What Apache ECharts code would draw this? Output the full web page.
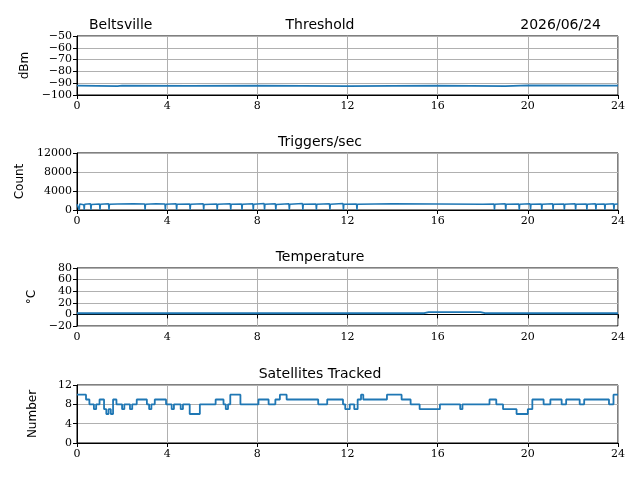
<!DOCTYPE html>
<html><head><meta charset="utf-8">
<script src="https://cdn.jsdelivr.net/npm/echarts@6/dist/echarts.min.js"></script>
<style>html,body{margin:0;padding:0;background:#fff}#c{width:640px;height:480px}</style>
</head><body><div id="c"></div>
<script>
/* ====== data (hour, value) ====== */
const threshold = [[0,-92],[1.8,-92.5],[2,-92],[5,-92.3],[8,-92],[12,-92.4],[16,-92],[19,-92.5],[20,-91.8],[24,-92]];

const triggers = [
  [0,1200],[0.1,0],[0.12,1250],[0.3,1100],[0.32,0],[0.34,1200],[0.6,1300],[0.62,0],[0.64,1150],
  [1.0,1250],[1.02,0],[1.04,1200],[1.4,1300],[1.42,0],[1.44,1200],[1.8,1250],
  [2.5,1300],[3.0,1250],[3.02,0],[3.04,1200],[3.5,1300],[3.9,1250],[3.92,0],[3.94,1200],
  [4.4,1300],[4.42,0],[4.44,1200],[5.0,1250],[5.02,0],[5.04,1200],[5.6,1300],[5.62,0],[5.64,1150],
  [6.2,1250],[6.22,0],[6.24,1200],[6.8,1300],[6.82,0],[6.84,1200],[7.3,1250],[7.32,0],[7.34,1200],
  [7.8,1300],[7.82,0],[7.84,1200],[8.3,1350],[8.32,0],[8.34,1200],[8.8,1300],[8.82,0],[8.84,1150],
  [9.4,1300],[9.42,0],[9.44,1200],[10.0,1350],[10.02,0],[10.04,1200],[10.6,1250],[10.62,0],[10.64,1200],
  [11.2,1300],[11.22,0],[11.24,1200],[11.8,1350],[11.82,0],[11.84,1200],[12.4,1250],[12.42,0],[12.44,1200],
  [14,1300],[16,1250],[18,1200],[18.5,1250],[18.52,0],[18.54,1200],[19.0,1300],[19.02,0],[19.04,1200],
  [19.6,1250],[19.62,0],[19.64,1200],[20.1,1300],[20.12,0],[20.14,1200],[20.6,1250],[20.62,0],[20.64,1200],
  [21.1,1300],[21.12,0],[21.14,1200],[21.6,1250],[21.62,0],[21.64,1200],[22.1,1300],[22.12,0],[22.14,1200],
  [22.6,1250],[22.62,0],[22.64,1200],[23.0,1300],[23.02,0],[23.04,1200],[23.4,1250],[23.42,0],[23.44,1200],
  [23.8,1300],[23.82,0],[23.84,1200],[24,1250]
];

const temperature = [[0,2],[4,2],[8,2],[12,2],[15.4,2],[15.6,4],[17.9,4],[18.1,2],[20,2],[24,2]];

const satellites = [
  [0,10],[0.4,9],[0.55,8],[0.75,7],[0.85,8],[1.0,9],[1.2,7],[1.3,6],[1.4,7],[1.5,6],[1.6,9],[1.75,8],
  [2.0,7],[2.1,8],[2.35,7],[2.45,8],[2.65,9],[3.1,8],[3.2,7],[3.3,8],[3.45,9],[3.95,8],[4.2,7],[4.3,8],
  [4.6,7],[4.7,8],[5.0,6],[5.45,8],[6.15,9],[6.5,8],[6.6,7],[6.7,8],[6.8,10],[7.25,8],[8.05,9],[8.5,8],
  [8.8,9],[9.0,10],[9.3,9],[10.7,8],[11.1,9],[11.8,8],[11.9,7],[12.1,8],[12.3,7],[12.45,9],[12.6,10],[12.7,9],
  [13.75,10],[14.4,9],[14.8,8],[15.2,7],[16.1,8],[17.0,7],[17.1,8],[18.3,9],[18.6,8],[18.9,7],[19.5,6],
  [20.0,7],[20.2,9],[20.7,8],[21.0,9],[21.5,8],[21.7,9],[22.3,8],[22.5,9],[23.6,8],[23.8,10],[24,10]
];

const xTicks = [0, 4, 8, 12, 16, 20, 24];

/* ====== layout ====== */
const grids = [
  {top:36, height:59}, {top:153, height:57}, {top:268, height:58}, {top:385, height:58}
].map(g => ({left:77, right:22, top:g.top, height:g.height, show:true, borderColor:'#000', borderWidth:1}));

const yCfg = [
  {min:-100, max:-50, interval:10, name:'dBm'},
  {min:0, max:12000, interval:4000, name:'Count'},
  {min:-20, max:80, interval:20, name:'°C'},
  {min:0, max:12, interval:4, name:'Number'}
];

const serif = '"DejaVu Serif", serif';
const axisLine = {show:true, lineStyle:{color:'#000'}};
const grid = {show:true, lineStyle:{color:'#b0b0b0', width:1}};

const chart = echarts.init(document.getElementById('c'));
chart.setOption({
  animation:false,
  backgroundColor:'#fff',
  title:[
    {text:'Beltsville', left:84, top:13},
    {text:'Threshold', left:'center', top:13},
    {text:'2026/06/24', right:34, top:13},
    {text:'Triggers/sec', left:'center', top:130},
    {text:'Temperature', left:'center', top:245},
    {text:'Satellites Tracked', left:'center', top:362}
  ].map(t => Object.assign(t, {textStyle:{fontSize:14, fontWeight:'normal', color:'#000', fontFamily:'"DejaVu Sans", sans-serif'}})),
  grid:grids,
  xAxis:grids.map((g,i) => ({
    type:'value', gridIndex:i, min:0, max:24, interval:4,
    axisLine, axisTick:{show:true, length:4, lineStyle:{color:'#000'}}, splitLine:grid,
    axisLabel:{color:'#000', fontSize:11, fontFamily:serif, margin:6, showMinLabel:true, showMaxLabel:true,
      formatter: v => xTicks.includes(v) ? String(v) : ''}
  })),
  yAxis:yCfg.map((c,i) => ({
    type:'value', gridIndex:i, min:c.min, max:c.max, interval:c.interval,
    name:c.name, nameLocation:'middle', nameRotate:90, nameGap:i===1 ? 46 : 38,
    nameTextStyle:{color:'#000', fontSize:12, fontFamily:'"DejaVu Sans", sans-serif'},
    axisLine, axisTick:{show:true, length:4, lineStyle:{color:'#000'}}, splitLine:grid,
    axisLabel:{color:'#000', fontSize:11, fontFamily:serif, margin:5, showMinLabel:true, showMaxLabel:true, hideOverlap:false,
      formatter: v => v < 0 ? '\u2212' + Math.abs(v) : String(v)}
  })),
  series:[threshold, triggers, temperature, satellites].map((d,i) => ({
    type:'line', xAxisIndex:i, yAxisIndex:i, data:d, showSymbol:false,
    step: i===3 ? 'end' : false,
    lineStyle:{color:'#1f77b4', width:i===1 ? 1.5 : 1.8}
  }))
});
</script>
</body></html>
